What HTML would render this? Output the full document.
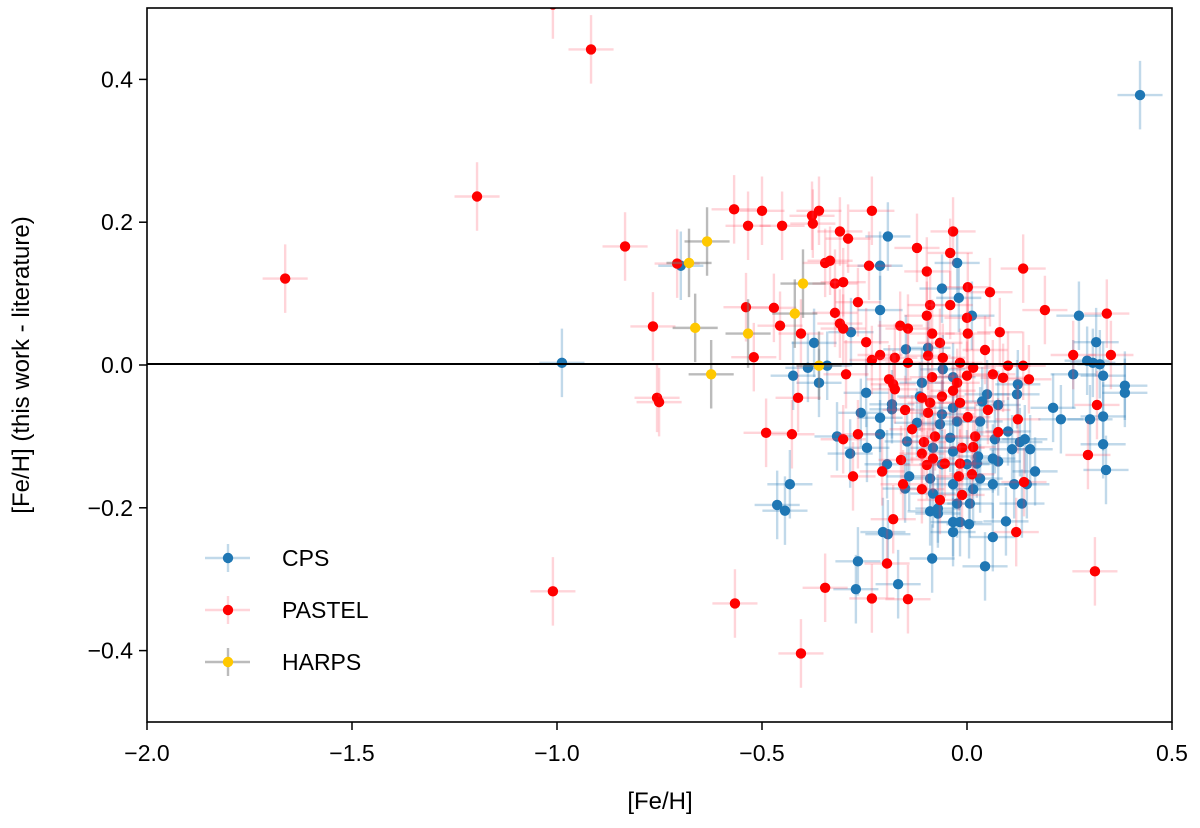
<!DOCTYPE html>
<html><head><meta charset="utf-8"><style>
html,body{margin:0;padding:0;background:#fff;}
svg text{font-family:"Liberation Sans","DejaVu Sans",sans-serif;fill:#000;}
</style></head><body>
<svg id="chart" width="1200" height="823" viewBox="0 0 1200 823" xmlns="http://www.w3.org/2000/svg">
<g id="errs"></g>
<g id="marks"></g>
<line x1="147" x2="1172" y1="364" y2="364" stroke="#000" stroke-width="2"/>
<rect x="147" y="8" width="1025" height="714" fill="none" stroke="#000" stroke-width="1.6"/>
<g id="axes"></g>
<text x="660" y="809" font-size="24" text-anchor="middle">[Fe/H]</text>
<text transform="translate(29,365) rotate(-90)" font-size="24" text-anchor="middle">[Fe/H] (this work - literature)</text>
<g id="legend"></g>
</svg>
<script>
const xTicks=[-2.0,-1.5,-1.0,-0.5,0.0,0.5];
const yTicks=[-0.4,-0.2,0.0,0.2,0.4];
const seriesNames=["CPS","PASTEL","HARPS"];
const cpsX=[-0.988,-0.698,0.422,-0.193,-0.212,-0.024,-0.061,-0.020,-0.212,0.012,0.273,-0.283,-0.373,0.315,-0.149,-0.095,-0.388,-0.424,-0.361,-0.341,0.293,0.307,0.324,0.259,0.332,0.385,0.385,-0.059,-0.034,-0.110,-0.246,0.124,0.122,0.049,-0.115,-0.183,-0.183,-0.259,-0.212,-0.061,-0.034,0.037,0.076,0.210,0.229,0.300,0.332,-0.024,0.032,-0.066,-0.122,-0.212,-0.317,0.100,-0.041,-0.146,0.068,0.129,0.141,-0.285,-0.244,-0.083,-0.034,0.027,0.063,0.110,0.154,0.332,-0.195,-0.061,0.000,0.024,0.076,0.166,-0.141,-0.090,0.032,0.339,-0.432,-0.151,-0.034,0.015,0.063,0.115,0.146,-0.083,-0.024,0.007,0.134,-0.463,-0.444,-0.090,-0.071,-0.071,-0.034,-0.017,0.005,0.095,0.063,-0.205,-0.193,-0.034,-0.085,0.044,-0.266,-0.168,-0.271];
const cpsY=[0.003,0.139,0.378,0.180,0.139,0.143,0.107,0.094,0.077,0.069,0.069,0.046,0.031,0.032,0.022,0.024,-0.004,-0.015,-0.025,-0.001,0.006,0.003,0.001,-0.013,-0.015,-0.029,-0.039,-0.006,-0.017,-0.025,-0.039,-0.027,-0.041,-0.041,-0.044,-0.055,-0.062,-0.067,-0.074,-0.069,-0.060,-0.051,-0.056,-0.060,-0.076,-0.076,-0.072,-0.079,-0.079,-0.083,-0.081,-0.097,-0.100,-0.093,-0.102,-0.107,-0.104,-0.108,-0.104,-0.124,-0.116,-0.116,-0.121,-0.128,-0.131,-0.118,-0.118,-0.111,-0.139,-0.139,-0.139,-0.138,-0.135,-0.149,-0.156,-0.159,-0.159,-0.147,-0.167,-0.173,-0.167,-0.174,-0.167,-0.167,-0.167,-0.180,-0.194,-0.194,-0.194,-0.196,-0.204,-0.205,-0.208,-0.201,-0.220,-0.220,-0.223,-0.219,-0.241,-0.234,-0.237,-0.234,-0.271,-0.282,-0.275,-0.307,-0.314];
const pastelX=[-1.663,-1.195,-0.917,-1.010,-0.834,-0.707,-0.766,-0.756,-0.751,-1.010,-0.566,-0.405,-0.568,-0.520,-0.539,-0.534,-0.490,-0.500,-0.361,-0.378,-0.376,-0.451,-0.232,-0.310,-0.290,-0.034,-0.122,-0.041,-0.346,-0.334,-0.239,-0.098,0.137,-0.322,-0.302,0.002,0.056,-0.471,-0.266,-0.090,-0.041,0.190,0.341,-0.322,-0.098,0.000,-0.456,-0.310,-0.302,-0.163,-0.144,0.080,0.002,-0.405,-0.085,-0.246,-0.066,0.044,-0.212,-0.232,-0.176,-0.095,-0.059,-0.144,-0.017,0.259,0.351,0.100,0.137,-0.295,0.015,-0.085,0.063,0.088,0.151,-0.190,-0.180,-0.176,-0.024,0.000,-0.061,-0.034,-0.110,-0.412,-0.090,-0.017,0.317,-0.151,-0.095,0.002,0.051,0.124,-0.134,-0.078,0.020,0.076,-0.427,-0.302,-0.266,-0.105,-0.012,0.015,-0.110,-0.083,-0.161,-0.098,-0.054,-0.017,0.295,-0.207,0.012,-0.020,-0.278,-0.156,-0.110,-0.012,0.139,-0.066,-0.180,0.120,-0.195,0.312,-0.346,-0.232,-0.144];
const pastelY=[0.121,0.236,0.442,-0.317,0.166,0.142,0.054,-0.046,-0.052,0.505,-0.334,-0.404,0.218,0.011,0.081,0.195,-0.095,0.216,0.216,0.209,0.198,0.195,0.216,0.187,0.177,0.187,0.164,0.157,0.143,0.146,0.139,0.131,0.135,0.114,0.116,0.109,0.102,0.080,0.088,0.084,0.084,0.077,0.072,0.073,0.069,0.066,0.055,0.058,0.051,0.055,0.051,0.046,0.044,0.044,0.044,0.032,0.031,0.021,0.014,0.007,0.010,0.013,0.010,0.003,0.003,0.014,0.014,-0.001,-0.001,-0.013,-0.004,-0.017,-0.013,-0.018,-0.020,-0.020,-0.027,-0.034,-0.025,-0.015,-0.044,-0.036,-0.046,-0.046,-0.053,-0.053,-0.056,-0.063,-0.067,-0.073,-0.063,-0.076,-0.090,-0.100,-0.100,-0.094,-0.097,-0.104,-0.097,-0.108,-0.116,-0.115,-0.124,-0.131,-0.133,-0.140,-0.138,-0.138,-0.126,-0.149,-0.153,-0.156,-0.156,-0.167,-0.174,-0.182,-0.164,-0.189,-0.216,-0.234,-0.278,-0.289,-0.312,-0.327,-0.328];
const harpsX=[-0.678,-0.634,-0.663,-0.624,-0.534,-0.400,-0.420,-0.361];
const harpsY=[0.143,0.173,0.052,-0.013,0.044,0.114,0.072,-0.001];
const xErr=0.055, yErr=0.048;

const NS="http://www.w3.org/2000/svg";
const L=147,R=1172,T=8,B=722;
const sx=v=>L+(v+2.0)/2.5*(R-L);
const sy=v=>T+(0.5-v)/1.0*(B-T);
function mk(tag,attrs,parent){const e=document.createElementNS(NS,tag);for(const k in attrs)e.setAttribute(k,attrs[k]);parent.appendChild(e);return e;}
const errs=document.getElementById('errs'),axes=document.getElementById('axes'),legend=document.getElementById('legend');
const series=[[cpsX,cpsY,'#1f77b4','rgba(31,119,180,0.28)','cps'],[pastelX,pastelY,'#ff0000','rgba(255,60,80,0.22)','pastel'],[harpsX,harpsY,'#ffc800','rgba(120,120,120,0.5)','harps']];
series.forEach(([xs,ys,col,ecol,nm])=>{
  const g=mk('g',{},errs);
  
  
  xs.forEach((x,i)=>{
    const cx=sx(x),cy=sy(ys[i]);
    const h=mk('line',{x1:sx(x-xErr),x2:sx(x+xErr),y1:cy,y2:cy,stroke:ecol,'stroke-width':2.4},g);
    
    
    const v=mk('line',{x1:cx,x2:cx,y1:sy(ys[i]-yErr),y2:sy(ys[i]+yErr),stroke:ecol,'stroke-width':2.4},g);
    
    
    const c=mk('circle',{cx:cx,cy:cy,r:5.2,fill:col},g);
    
    
  });
});
const cp=document.createElementNS(NS,'clipPath');cp.id='clip';mk('rect',{x:L,y:T,width:R-L,height:B-T},cp);document.getElementById('chart').prepend(cp);
errs.setAttribute('clip-path','url(#clip)');
xTicks.forEach(t=>{
  const x=sx(t);
  const l=mk('line',{x1:x,x2:x,y1:B,y2:B+8,stroke:'#000','stroke-width':1.5},axes);
  
  
  const tx=mk('text',{x:x,y:B+39,'font-size':23,'text-anchor':'middle'},axes);
  tx.textContent=(t<0?'\u2212':'')+Math.abs(t).toFixed(1);
  
  
});
yTicks.forEach(t=>{
  const y=sy(t);
  const l=mk('line',{x1:L-8,x2:L,y1:y,y2:y,stroke:'#000','stroke-width':1.5},axes);
  
  
  const tx=mk('text',{x:L-14,y:y+8,'font-size':23,'text-anchor':'end'},axes);
  tx.textContent=(t<0?'\u2212':'')+Math.abs(t).toFixed(1);
  
  
});
seriesNames.forEach((n,i)=>{
  const y=558+i*52, s=series[i];
  const g=mk('g',{},legend);
  
  
  mk('line',{x1:205,x2:250,y1:y,y2:y,stroke:s[3],'stroke-width':2.4},g);
  mk('line',{x1:228,x2:228,y1:y-14,y2:y+14,stroke:s[3],'stroke-width':2.4},g);
  mk('circle',{cx:228,cy:y,r:5.2,fill:s[2]},g);
  const tx=mk('text',{x:282,y:y+8,'font-size':23},g);
  tx.textContent=n;
});
</script>
</body></html>
